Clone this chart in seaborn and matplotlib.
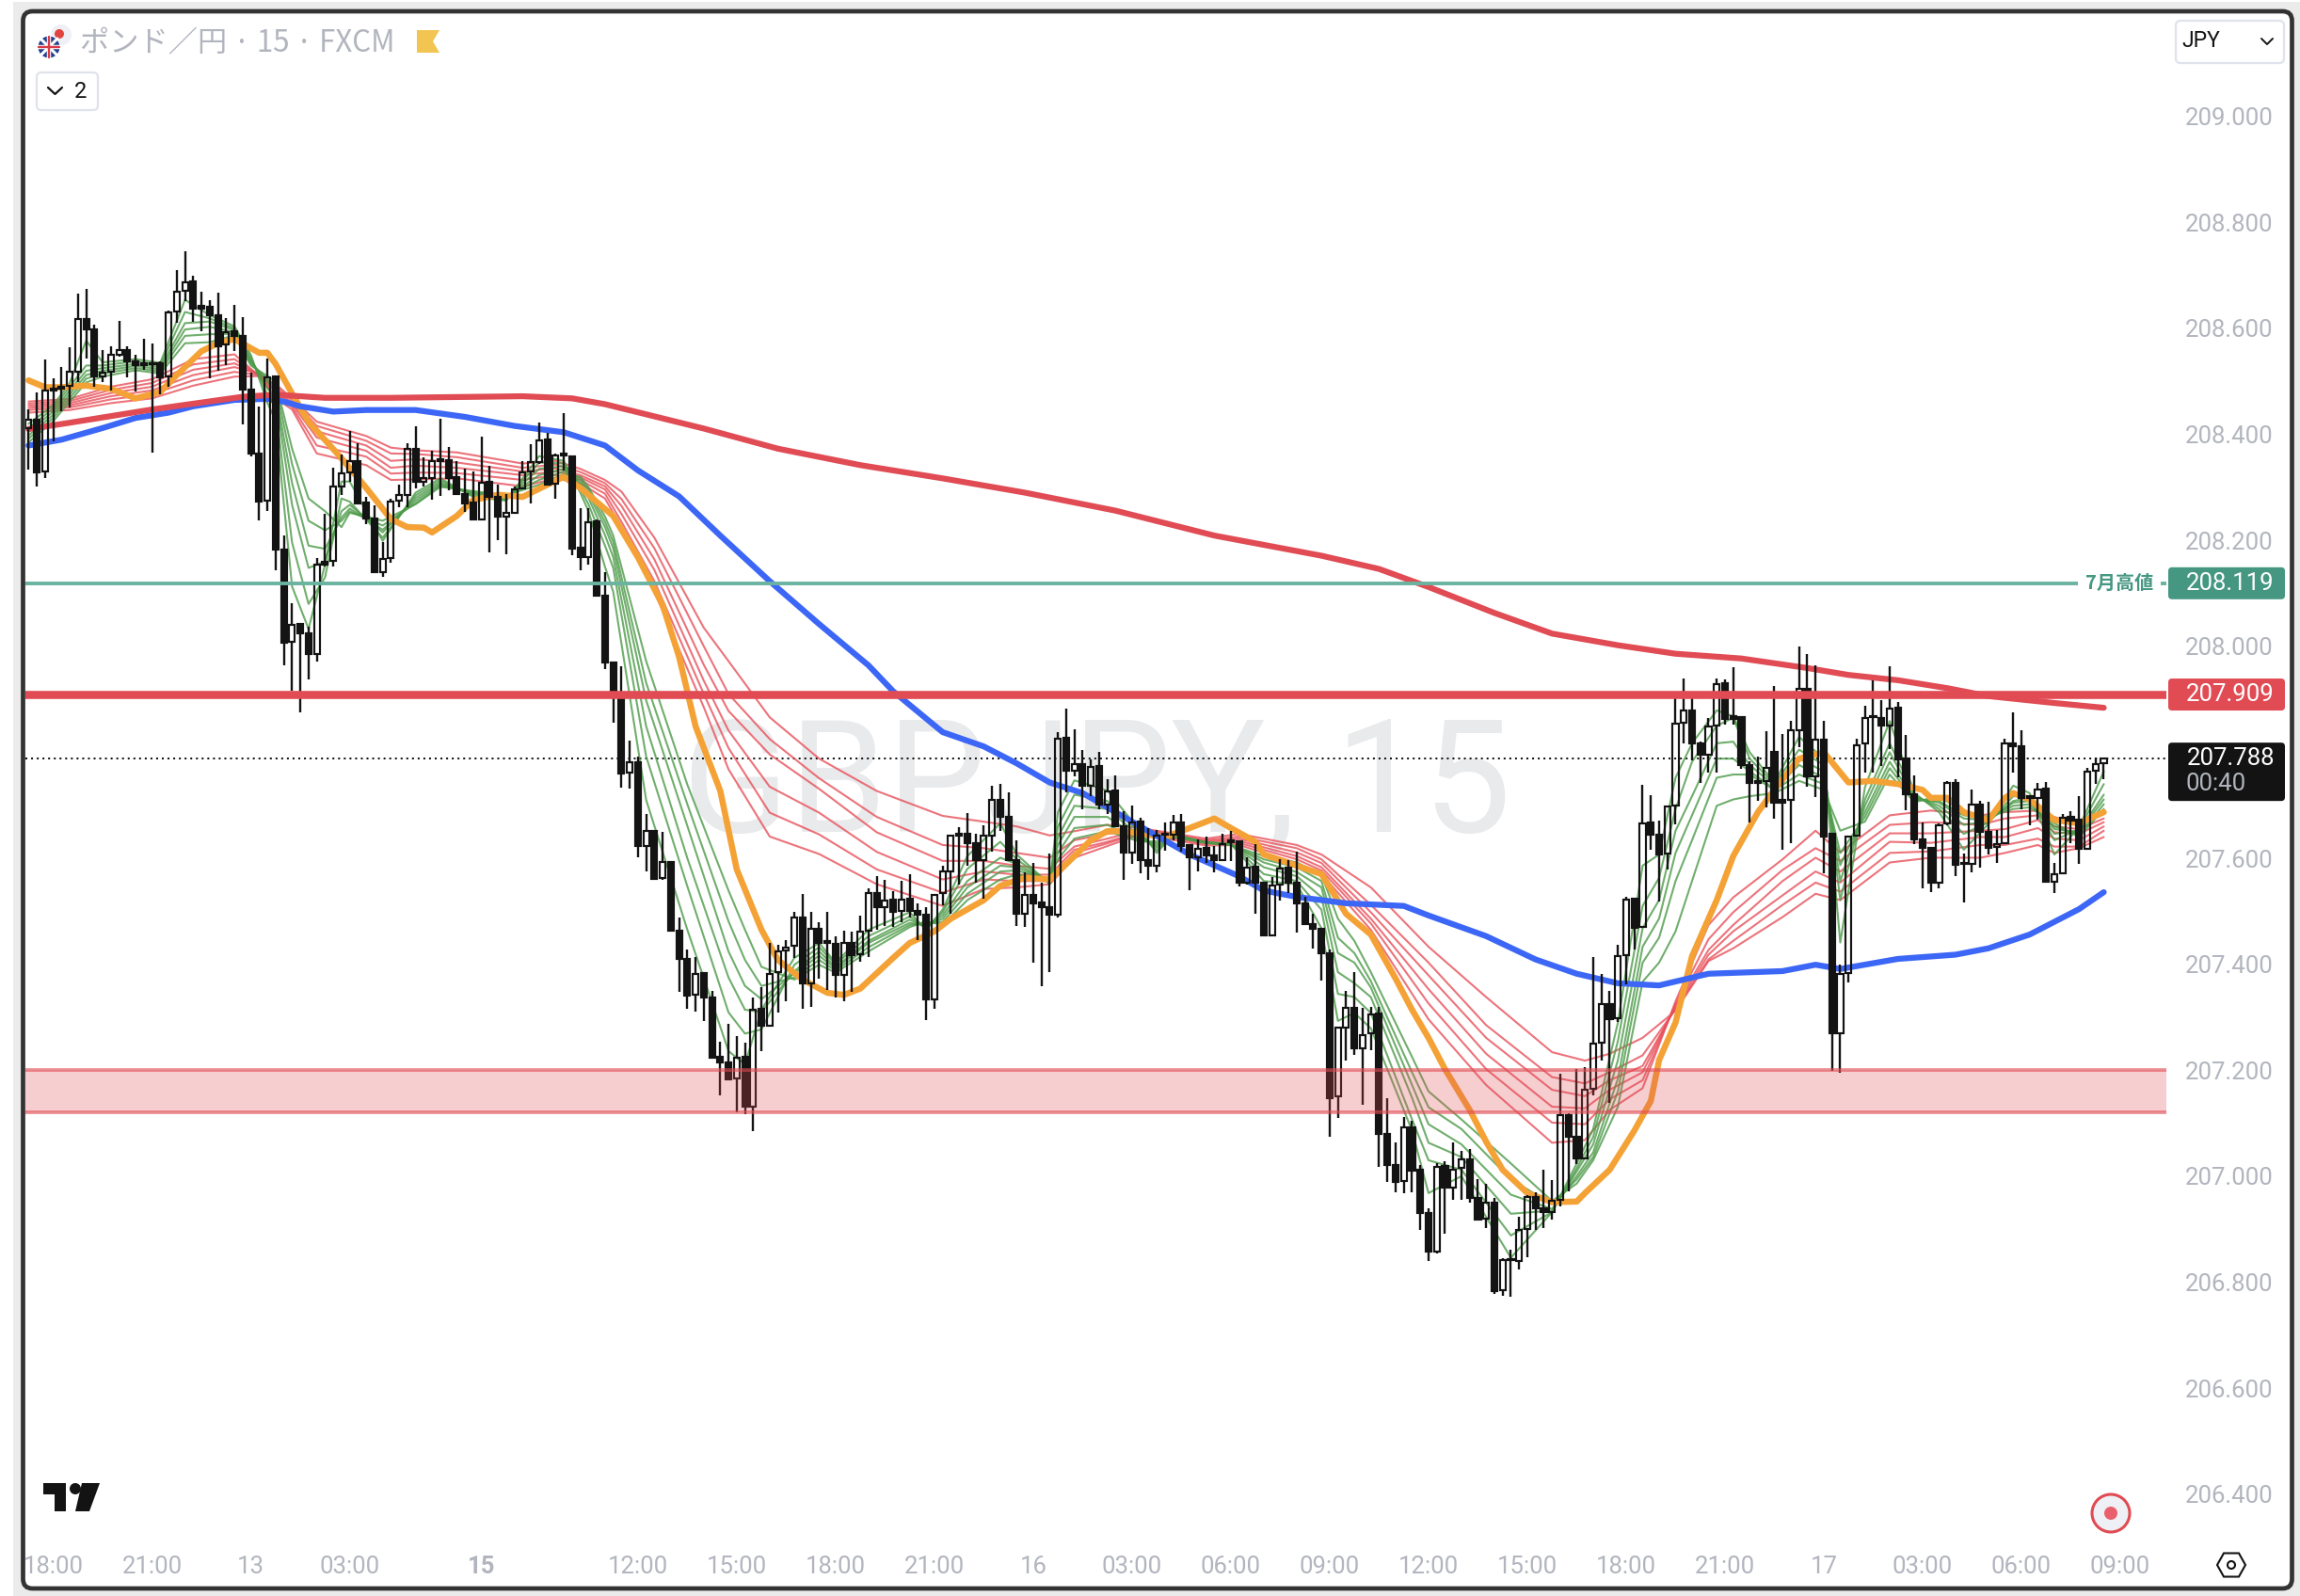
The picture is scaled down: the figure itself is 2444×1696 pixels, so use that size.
import matplotlib
matplotlib.use("Agg")
import matplotlib.pyplot as plt
import numpy as np
import pandas as pd
import seaborn as sns
from matplotlib.patches import Circle, FancyBboxPatch, Polygon, Rectangle

W, H = 2444, 1696

OPENS = [
    208.412, 208.428, 208.330, 208.486, 208.490, 208.492, 208.519, 208.617, 208.599, 208.509,
    208.519, 208.551, 208.560, 208.537, 208.534, 208.535, 208.534, 208.509, 208.632, 208.671,
    208.688, 208.642, 208.641, 208.624, 208.569, 208.595, 208.586, 208.484, 208.363, 208.275,
    208.509, 208.182, 208.009, 208.042, 208.024, 207.985, 208.160, 208.161, 208.302, 208.328,
    208.349, 208.271, 208.242, 208.140, 208.166, 208.275, 208.286, 208.372, 208.311, 208.318,
    208.353, 208.351, 208.319, 208.287, 208.271, 208.240, 208.310, 208.282, 208.245, 208.252,
    208.298, 208.330, 208.347, 208.390, 208.307, 208.364, 208.358, 208.186, 208.169, 208.235,
    208.095, 207.970, 207.903, 207.761, 207.782, 207.624, 207.651, 207.562, 207.593, 207.463,
    207.410, 207.342, 207.383, 207.337, 207.225, 207.215, 207.184, 207.225, 207.132, 207.315,
    207.283, 207.385, 207.426, 207.435, 207.489, 207.364, 207.467, 207.444, 207.438, 207.380,
    207.440, 207.419, 207.463, 207.535, 207.508, 207.521, 207.501, 207.523, 207.501, 207.494,
    207.334, 207.535, 207.576, 207.646, 207.646, 207.628, 207.597, 207.643, 207.710, 207.678,
    207.596, 207.495, 207.531, 207.516, 207.508, 207.493, 207.827, 207.766, 207.778, 207.737,
    207.774, 207.702, 207.728, 207.660, 207.611, 207.669, 207.596, 207.586, 207.646, 207.644,
    207.667, 207.625, 207.602, 207.620, 207.605, 207.597, 207.634, 207.632, 207.554, 207.584,
    207.554, 207.455, 207.551, 207.582, 207.554, 207.515, 207.476, 207.467, 207.421, 207.150,
    207.281, 207.317, 207.242, 207.269, 207.307, 207.080, 207.021, 206.990, 207.092, 207.012,
    206.931, 206.858, 207.019, 206.979, 207.015, 207.032, 206.959, 206.919, 206.950, 206.784,
    206.844, 206.839, 206.901, 206.961, 206.939, 206.933, 206.955, 207.116, 207.074, 207.034,
    207.165, 207.252, 207.324, 207.298, 207.417, 207.523, 207.470, 207.668, 207.645, 207.609,
    207.700, 207.856, 207.879, 207.817, 207.796, 207.851, 207.930, 207.868, 207.866, 207.776,
    207.746, 207.746, 207.801, 207.710, 207.711, 207.842, 207.919, 207.755, 207.824, 207.646,
    207.270, 207.383, 207.642, 207.816, 207.869, 207.865, 207.851, 207.884, 207.788, 207.721,
    207.635, 207.619, 207.554, 207.665, 207.743, 207.592, 207.590, 207.702, 207.650, 207.621,
    207.629, 207.817, 207.811, 207.717, 207.713, 207.731, 207.556, 207.571, 207.678, 207.672,
    207.618, 207.766, 207.780,
]
CLOSES = [
    208.428, 208.329, 208.482, 208.482, 208.486, 208.519, 208.617, 208.599, 208.509, 208.517,
    208.550, 208.560, 208.537, 208.530, 208.531, 208.533, 208.508, 208.631, 208.669, 208.687,
    208.637, 208.637, 208.624, 208.567, 208.593, 208.586, 208.484, 208.363, 208.274, 208.508,
    208.182, 208.007, 208.041, 208.024, 207.985, 208.154, 208.154, 208.301, 208.327, 208.349,
    208.270, 208.242, 208.140, 208.165, 208.274, 208.285, 208.372, 208.310, 208.317, 208.349,
    208.350, 208.318, 208.287, 208.270, 208.239, 208.309, 208.282, 208.244, 208.251, 208.296,
    208.329, 208.347, 208.389, 208.306, 208.361, 208.361, 208.185, 208.168, 208.234, 208.095,
    207.970, 207.917, 207.759, 207.782, 207.624, 207.651, 207.561, 207.593, 207.463, 207.410,
    207.341, 207.382, 207.338, 207.224, 207.215, 207.182, 207.224, 207.131, 207.314, 207.283,
    207.382, 207.424, 207.432, 207.488, 207.364, 207.467, 207.440, 207.440, 207.379, 207.440,
    207.417, 207.461, 207.534, 207.507, 207.520, 207.499, 207.522, 207.501, 207.494, 207.334,
    207.530, 207.575, 207.642, 207.643, 207.628, 207.596, 207.642, 207.710, 207.678, 207.596,
    207.495, 207.530, 207.515, 207.508, 207.493, 207.826, 207.765, 207.777, 207.736, 207.772,
    207.701, 207.727, 207.660, 207.610, 207.668, 207.596, 207.586, 207.643, 207.644, 207.667,
    207.624, 207.602, 207.618, 207.605, 207.597, 207.627, 207.631, 207.554, 207.583, 207.554,
    207.454, 207.549, 207.580, 207.553, 207.514, 207.475, 207.467, 207.421, 207.148, 207.280,
    207.317, 207.241, 207.267, 207.306, 207.080, 207.021, 206.989, 207.092, 207.011, 206.931,
    206.857, 207.018, 206.978, 207.013, 207.031, 206.959, 206.918, 206.950, 206.783, 206.841,
    206.841, 206.899, 206.960, 206.939, 206.932, 206.954, 207.115, 207.074, 207.033, 207.163,
    207.251, 207.324, 207.296, 207.415, 207.521, 207.469, 207.666, 207.645, 207.607, 207.698,
    207.854, 207.878, 207.817, 207.795, 207.849, 207.929, 207.863, 207.863, 207.776, 207.742,
    207.743, 207.771, 207.704, 207.705, 207.841, 207.919, 207.754, 207.823, 207.641, 207.270,
    207.381, 207.641, 207.814, 207.864, 207.866, 207.850, 207.883, 207.786, 207.721, 207.635,
    207.619, 207.553, 207.663, 207.743, 207.588, 207.589, 207.702, 207.650, 207.620, 207.627,
    207.817, 207.811, 207.713, 207.714, 207.730, 207.556, 207.569, 207.676, 207.671, 207.618,
    207.764, 207.778, 207.788,
]
HIGHS = [
    208.448, 208.480, 208.541, 208.505, 208.528, 208.564, 208.665, 208.675, 208.607, 208.559,
    208.567, 208.614, 208.566, 208.551, 208.580, 208.571, 208.538, 208.634, 208.710, 208.745,
    208.699, 208.670, 208.654, 208.667, 208.619, 208.644, 208.622, 208.517, 208.453, 208.543,
    208.511, 208.209, 208.081, 208.042, 208.037, 208.166, 208.250, 208.337, 208.362, 208.406,
    208.384, 208.282, 208.266, 208.196, 208.278, 208.305, 208.384, 208.415, 208.357, 208.369,
    208.429, 208.376, 208.350, 208.335, 208.330, 208.395, 208.340, 208.306, 208.287, 208.302,
    208.349, 208.382, 208.422, 208.402, 208.363, 208.440, 208.360, 208.261, 208.261, 208.240,
    208.140, 207.970, 207.962, 207.822, 207.792, 207.683, 207.653, 207.649, 207.593, 207.489,
    207.427, 207.414, 207.385, 207.350, 207.254, 207.288, 207.265, 207.252, 207.337, 207.357,
    207.440, 207.437, 207.445, 207.498, 207.532, 207.498, 207.479, 207.498, 207.453, 207.463,
    207.461, 207.492, 207.543, 207.567, 207.559, 207.537, 207.557, 207.569, 207.514, 207.507,
    207.532, 207.586, 207.644, 207.659, 207.685, 207.646, 207.663, 207.736, 207.740, 207.724,
    207.634, 207.573, 207.591, 207.554, 207.609, 207.838, 207.882, 207.844, 207.804, 207.786,
    207.800, 207.749, 207.756, 207.689, 207.700, 207.676, 207.657, 207.653, 207.667, 207.682,
    207.684, 207.627, 207.636, 207.641, 207.623, 207.647, 207.652, 207.632, 207.602, 207.627,
    207.554, 207.564, 207.598, 207.597, 207.612, 207.527, 207.496, 207.467, 207.428, 207.282,
    207.350, 207.385, 207.317, 207.319, 207.319, 207.147, 207.064, 207.112, 207.105, 207.021,
    206.939, 207.024, 207.028, 207.064, 207.048, 207.051, 206.995, 206.986, 206.958, 206.845,
    206.861, 206.923, 206.965, 206.970, 207.012, 206.993, 207.193, 207.119, 207.202, 207.206,
    207.414, 207.382, 207.350, 207.437, 207.527, 207.523, 207.739, 207.719, 207.671, 207.698,
    207.904, 207.940, 207.903, 207.820, 207.864, 207.940, 207.937, 207.961, 207.866, 207.783,
    207.792, 207.840, 207.925, 207.835, 207.859, 208.000, 207.986, 207.964, 207.859, 207.646,
    207.399, 207.641, 207.825, 207.887, 207.936, 207.899, 207.962, 207.894, 207.833, 207.757,
    207.668, 207.619, 207.666, 207.745, 207.749, 207.609, 207.730, 207.709, 207.707, 207.653,
    207.826, 207.875, 207.842, 207.717, 207.742, 207.744, 207.591, 207.683, 207.689, 207.718,
    207.770, 207.790, 207.790,
]
LOWS = [
    208.333, 208.302, 208.318, 208.386, 208.444, 208.451, 208.498, 208.544, 208.490, 208.499,
    208.483, 208.546, 208.508, 208.481, 208.522, 208.366, 208.476, 208.489, 208.610, 208.651,
    208.613, 208.595, 208.505, 208.520, 208.530, 208.557, 208.419, 208.359, 208.237, 208.256,
    208.144, 207.964, 207.917, 207.876, 207.938, 207.972, 208.151, 208.151, 208.286, 208.311,
    208.270, 208.230, 208.140, 208.131, 208.157, 208.263, 208.262, 208.298, 208.302, 208.276,
    208.283, 208.295, 208.287, 208.253, 208.239, 208.240, 208.178, 208.201, 208.173, 208.252,
    208.298, 208.270, 208.344, 208.303, 208.279, 208.332, 208.172, 208.144, 208.154, 208.093,
    207.957, 207.855, 207.733, 207.732, 207.602, 207.575, 207.559, 207.559, 207.461, 207.348,
    207.315, 207.311, 207.293, 207.222, 207.152, 207.182, 207.121, 207.117, 207.085, 207.236,
    207.283, 207.308, 207.330, 207.412, 207.315, 207.319, 207.372, 207.352, 207.338, 207.330,
    207.347, 207.405, 207.414, 207.465, 207.473, 207.471, 207.479, 207.489, 207.445, 207.295,
    207.315, 207.511, 207.496, 207.551, 207.586, 207.554, 207.523, 207.613, 207.652, 207.596,
    207.472, 207.470, 207.403, 207.358, 207.386, 207.488, 207.724, 207.754, 207.692, 207.717,
    207.692, 207.684, 207.660, 207.559, 207.589, 207.571, 207.559, 207.573, 207.614, 207.634,
    207.612, 207.539, 207.576, 207.592, 207.573, 207.594, 207.595, 207.546, 207.551, 207.495,
    207.454, 207.455, 207.520, 207.535, 207.459, 207.475, 207.429, 207.370, 207.074, 207.110,
    207.218, 207.228, 207.135, 207.238, 207.017, 206.989, 206.969, 206.967, 206.969, 206.899,
    206.839, 206.854, 206.891, 206.955, 206.955, 206.950, 206.918, 206.902, 206.777, 206.774,
    206.772, 206.823, 206.847, 206.898, 206.902, 206.918, 206.942, 206.971, 207.022, 207.033,
    207.153, 207.218, 207.138, 207.291, 207.362, 207.427, 207.470, 207.616, 207.518, 207.578,
    207.664, 207.817, 207.784, 207.742, 207.762, 207.761, 207.852, 207.852, 207.768, 207.668,
    207.708, 207.696, 207.675, 207.616, 207.628, 207.810, 207.735, 207.716, 207.572, 207.199,
    207.195, 207.365, 207.642, 207.761, 207.761, 207.774, 207.806, 207.752, 207.690, 207.626,
    207.543, 207.536, 207.544, 207.663, 207.567, 207.517, 207.573, 207.582, 207.608, 207.592,
    207.628, 207.761, 207.692, 207.663, 207.672, 207.555, 207.534, 207.570, 207.628, 207.589,
    207.618, 207.740, 207.749,
]

SLOW_RED_BARS = [0, 5, 15, 26, 30, 36, 44, 60, 66, 70, 82, 91, 101, 111, 121, 132, 144, 157, 164,
                 170, 178, 185, 193, 200, 208, 216, 221, 227, 233, 238, 246, 252]
SLOW_RED = [208.410, 208.422, 208.447, 208.471, 208.475, 208.469, 208.469, 208.472, 208.468,
            208.457, 208.411, 208.373, 208.342, 208.317, 208.290, 208.256, 208.209, 208.171,
            208.146, 208.112, 208.063, 208.024, 208.002, 207.986, 207.977, 207.959, 207.946,
            207.936, 207.921, 207.906, 207.893, 207.884]

BLUE_BARS = [0, 4, 9, 13, 17, 20, 25, 29, 31, 33, 37, 41, 47, 53, 59, 65, 70, 74, 79, 84, 90, 96,
             102, 105, 111, 116, 120, 124, 128, 131, 135, 141, 147, 150, 154, 160, 167, 170, 177,
             183, 188, 193, 198, 204, 213, 217, 220, 227, 234, 238, 243, 249, 252]
BLUE = [208.379, 208.390, 208.412, 208.431, 208.441, 208.453, 208.465, 208.467, 208.462, 208.453,
        208.443, 208.446, 208.446, 208.433, 208.416, 208.404, 208.379, 208.332, 208.283, 208.209,
        208.123, 208.042, 207.964, 207.915, 207.838, 207.811, 207.779, 207.743, 207.723, 207.696,
        207.660, 207.607, 207.566, 207.539, 207.527, 207.515, 207.510, 207.492, 207.453, 207.409,
        207.382, 207.364, 207.360, 207.382, 207.387, 207.399, 207.391, 207.410, 207.418, 207.430,
        207.456, 207.504, 207.536]

ORANGE_BARS = [0, 2, 4, 7, 10, 13, 16, 18, 21, 23, 25, 28, 29, 30, 32, 34, 38, 41, 44, 46, 48, 49,
               52, 54, 57, 60, 63, 65, 67, 71, 74, 77, 79, 81, 84, 86, 89, 91, 94, 97, 99, 101,
               105, 107, 110, 112, 116, 118, 121, 124, 126, 128, 129, 131, 133, 138, 141, 144,
               146, 149, 150, 154, 157, 160, 163, 166, 168, 170, 172, 175, 177, 179, 182, 185,
               188, 189, 192, 195, 197, 198, 200, 202, 205, 207, 210, 212, 215, 218, 221, 224,
               227, 230, 231, 233, 235, 238, 240, 241, 243, 246, 249, 252]
ORANGE = [208.502, 208.489, 208.489, 208.492, 208.486, 208.468, 208.480, 208.512, 208.557, 208.572,
          208.580, 208.554, 208.554, 208.533, 208.477, 208.424, 208.355, 208.299, 208.240, 208.225,
          208.224, 208.215, 208.246, 208.276, 208.286, 208.282, 208.305, 208.320, 208.299, 208.246,
          208.168, 208.078, 207.980, 207.849, 207.727, 207.579, 207.465, 207.408, 207.371, 207.346,
          207.342, 207.354, 207.412, 207.440, 207.462, 207.486, 207.521, 207.548, 207.563, 207.560,
          207.589, 207.619, 207.634, 207.651, 207.651, 207.640, 207.657, 207.675, 207.657, 207.631,
          207.607, 207.586, 207.570, 207.495, 207.456, 207.373, 207.314, 207.261, 207.202, 207.125,
          207.065, 207.012, 206.968, 206.951, 206.952, 206.968, 207.012, 207.086, 207.142, 207.219,
          207.290, 207.415, 207.521, 207.604, 207.687, 207.729, 207.788, 207.800, 207.743, 207.746,
          207.740, 207.729, 207.714, 207.714, 207.687, 207.672, 207.714, 207.723, 207.711, 207.672,
          207.666, 207.687]

# one row per bar listed, fastest average first
RED_BARS = [0, 5, 10, 15, 20, 25, 28, 30, 32, 35, 41, 44, 47, 52, 60, 64, 67, 70, 72, 76, 82, 85,
            90, 96, 103, 111, 116, 120, 124, 127, 131, 135, 143, 147, 154, 157, 163, 170, 177, 185,
            189, 192, 196, 200, 204, 207, 213, 217, 220, 226, 231, 237, 240, 244, 246, 249, 252]
RED_RIBBON = [
    [208.462, 208.458, 208.454, 208.450, 208.446, 208.441],
    [208.467, 208.463, 208.459, 208.455, 208.451, 208.446],
    [208.490, 208.484, 208.478, 208.472, 208.466, 208.459],
    [208.504, 208.497, 208.490, 208.483, 208.476, 208.468],
    [208.542, 208.532, 208.522, 208.512, 208.502, 208.492],
    [208.551, 208.542, 208.534, 208.527, 208.518, 208.509],
    [208.510, 208.512, 208.513, 208.514, 208.512, 208.510],
    [208.468, 208.474, 208.480, 208.485, 208.490, 208.495],
    [208.447, 208.452, 208.457, 208.460, 208.465, 208.468],
    [208.364, 208.379, 208.394, 208.406, 208.416, 208.424],
    [208.342, 208.358, 208.369, 208.379, 208.388, 208.397],
    [208.314, 208.326, 208.337, 208.350, 208.364, 208.375],
    [208.315, 208.328, 208.341, 208.353, 208.363, 208.370],
    [208.317, 208.327, 208.337, 208.347, 208.357, 208.366],
    [208.302, 208.314, 208.323, 208.330, 208.337, 208.345],
    [208.317, 208.323, 208.330, 208.336, 208.343, 208.350],
    [208.308, 208.314, 208.319, 208.323, 208.329, 208.335],
    [208.279, 208.288, 208.296, 208.302, 208.308, 208.314],
    [208.225, 208.235, 208.250, 208.265, 208.278, 208.292],
    [208.103, 208.123, 208.144, 208.164, 208.185, 208.205],
    [207.885, 207.910, 207.935, 207.965, 208.000, 208.035],
    [207.768, 207.808, 207.841, 207.878, 207.910, 207.972],
    [207.641, 207.686, 207.735, 207.796, 207.825, 207.866],
    [207.608, 207.645, 207.686, 207.731, 207.751, 207.788],
    [207.551, 207.579, 207.612, 207.649, 207.678, 207.727],
    [207.510, 207.535, 207.560, 207.595, 207.625, 207.680],
    [207.542, 207.560, 207.575, 207.595, 207.619, 207.669],
    [207.545, 207.557, 207.569, 207.586, 207.610, 207.660],
    [207.551, 207.557, 207.569, 207.580, 207.601, 207.643],
    [207.601, 207.610, 207.616, 207.622, 207.634, 207.651],
    [207.623, 207.628, 207.631, 207.637, 207.646, 207.663],
    [207.645, 207.648, 207.650, 207.653, 207.655, 207.657],
    [207.624, 207.627, 207.630, 207.632, 207.634, 207.637],
    [207.625, 207.629, 207.633, 207.637, 207.641, 207.646],
    [207.591, 207.598, 207.604, 207.611, 207.619, 207.625],
    [207.570, 207.577, 207.583, 207.591, 207.598, 207.607],
    [207.465, 207.477, 207.486, 207.498, 207.512, 207.545],
    [207.296, 207.326, 207.353, 207.379, 207.403, 207.433],
    [207.172, 207.202, 207.231, 207.261, 207.285, 207.338],
    [207.063, 207.101, 207.131, 207.163, 207.187, 207.234],
    [207.068, 207.098, 207.128, 207.151, 207.175, 207.218],
    [207.125, 207.145, 207.163, 207.181, 207.196, 207.231],
    [207.166, 207.181, 207.196, 207.208, 207.228, 207.261],
    [207.330, 207.325, 207.322, 207.318, 207.315, 207.312],
    [207.474, 207.447, 207.427, 207.418, 207.409, 207.406],
    [207.526, 207.498, 207.474, 207.462, 207.444, 207.430],
    [207.598, 207.578, 207.557, 207.530, 207.512, 207.489],
    [207.652, 207.619, 207.601, 207.575, 207.554, 207.533],
    [207.611, 207.595, 207.575, 207.554, 207.537, 207.521],
    [207.681, 207.663, 207.647, 207.631, 207.610, 207.592],
    [207.690, 207.668, 207.647, 207.629, 207.613, 207.601],
    [207.681, 207.663, 207.652, 207.640, 207.625, 207.601],
    [207.687, 207.675, 207.655, 207.640, 207.625, 207.610],
    [207.690, 207.681, 207.672, 207.657, 207.637, 207.625],
    [207.678, 207.660, 207.649, 207.637, 207.622, 207.610],
    [207.663, 207.655, 207.646, 207.634, 207.622, 207.619],
    [207.684, 207.675, 207.668, 207.660, 207.652, 207.640],
]

GREEN_BARS = [0, 3, 5, 7, 9, 13, 16, 19, 22, 25, 27, 29, 30, 32, 34, 36, 38, 39, 43, 47, 50, 54, 58,
              62, 65, 67, 68, 70, 71, 75, 80, 85, 87, 89, 93, 96, 98, 102, 107, 109, 111, 114, 118,
              120, 124, 125, 127, 131, 135, 137, 139, 143, 146, 150, 154, 157, 159, 161, 163, 168,
              170, 174, 180, 185, 188, 190, 193, 196, 198, 200, 202, 205, 207, 209, 212, 215, 218,
              220, 223, 226, 229, 232, 235, 238, 241, 243, 246, 249, 252]
GREEN_RIBBON = [
    [208.420, 208.412, 208.405, 208.398, 208.392, 208.385],
    [208.455, 208.449, 208.443, 208.437, 208.431, 208.425],
    [208.497, 208.490, 208.483, 208.476, 208.469, 208.462],
    [208.577, 208.530, 208.520, 208.512, 208.505, 208.498],
    [208.536, 208.530, 208.525, 208.520, 208.515, 208.509],
    [208.542, 208.538, 208.533, 208.529, 208.525, 208.521],
    [208.535, 208.531, 208.527, 208.523, 208.519, 208.515],
    [208.654, 208.631, 208.610, 208.598, 208.586, 208.572],
    [208.625, 208.619, 208.613, 208.603, 208.589, 208.574],
    [208.604, 208.600, 208.597, 208.593, 208.590, 208.587],
    [208.550, 208.545, 208.540, 208.537, 208.533, 208.530],
    [208.460, 208.475, 208.487, 208.500, 208.505, 208.510],
    [208.426, 208.450, 208.470, 208.480, 208.492, 208.500],
    [208.113, 208.196, 208.267, 208.308, 208.344, 208.373],
    [208.033, 208.080, 208.148, 208.190, 208.237, 208.279],
    [208.154, 208.130, 208.160, 208.184, 208.219, 208.255],
    [208.311, 208.279, 208.255, 208.243, 208.237, 208.225],
    [208.311, 208.273, 208.267, 208.260, 208.255, 208.252],
    [208.199, 208.205, 208.215, 208.220, 208.228, 208.237],
    [208.290, 208.285, 208.280, 208.275, 208.270, 208.268],
    [208.317, 208.313, 208.309, 208.306, 208.303, 208.301],
    [208.282, 208.284, 208.287, 208.289, 208.291, 208.293],
    [208.275, 208.277, 208.279, 208.281, 208.283, 208.285],
    [208.359, 208.347, 208.335, 208.323, 208.314, 208.305],
    [208.350, 208.345, 208.340, 208.335, 208.330, 208.325],
    [208.290, 208.297, 208.303, 208.309, 208.315, 208.320],
    [208.255, 208.268, 208.280, 208.288, 208.295, 208.300],
    [208.150, 208.190, 208.210, 208.225, 208.235, 208.245],
    [208.103, 208.148, 208.168, 208.185, 208.197, 208.209],
    [207.710, 207.792, 207.849, 207.898, 207.931, 207.972],
    [207.465, 207.547, 207.600, 207.661, 207.702, 207.739],
    [207.236, 207.309, 207.375, 207.424, 207.481, 207.539],
    [207.211, 207.269, 207.314, 207.359, 207.408, 207.465],
    [207.314, 207.277, 207.310, 207.334, 207.359, 207.395],
    [207.412, 207.399, 207.387, 207.383, 207.375, 207.371],
    [207.440, 207.432, 207.424, 207.416, 207.408, 207.399],
    [207.403, 207.400, 207.395, 207.392, 207.388, 207.384],
    [207.465, 207.453, 207.444, 207.440, 207.432, 207.424],
    [207.498, 207.490, 207.484, 207.478, 207.474, 207.470],
    [207.465, 207.468, 207.470, 207.473, 207.477, 207.481],
    [207.503, 207.498, 207.492, 207.486, 207.480, 207.474],
    [207.604, 207.580, 207.557, 207.545, 207.533, 207.521],
    [207.666, 207.631, 207.601, 207.586, 207.575, 207.560],
    [207.607, 207.598, 207.589, 207.583, 207.577, 207.569],
    [207.551, 207.553, 207.556, 207.558, 207.560, 207.562],
    [207.687, 207.660, 207.640, 207.625, 207.610, 207.598],
    [207.747, 207.720, 207.699, 207.678, 207.657, 207.637],
    [207.728, 207.708, 207.693, 207.678, 207.663, 207.651],
    [207.651, 207.646, 207.641, 207.637, 207.634, 207.631],
    [207.610, 207.615, 207.620, 207.624, 207.628, 207.632],
    [207.645, 207.644, 207.643, 207.642, 207.641, 207.640],
    [207.630, 207.630, 207.630, 207.629, 207.629, 207.629],
    [207.627, 207.627, 207.626, 207.626, 207.625, 207.625],
    [207.557, 207.570, 207.583, 207.592, 207.598, 207.604],
    [207.551, 207.557, 207.566, 207.574, 207.583, 207.592],
    [207.468, 207.503, 207.527, 207.545, 207.557, 207.569],
    [207.293, 207.344, 207.385, 207.421, 207.450, 207.486],
    [207.308, 207.338, 207.364, 207.403, 207.421, 207.444],
    [207.279, 207.308, 207.338, 207.356, 207.368, 207.385],
    [207.086, 207.107, 207.148, 207.172, 207.196, 207.225],
    [206.968, 207.030, 207.063, 207.098, 207.130, 207.160],
    [207.000, 207.012, 207.036, 207.060, 207.089, 207.107],
    [206.846, 206.888, 206.929, 206.965, 206.994, 207.024],
    [206.932, 206.932, 206.935, 206.938, 206.947, 206.953],
    [207.024, 207.015, 207.009, 207.000, 206.994, 206.986],
    [207.089, 207.074, 207.060, 207.045, 207.036, 207.030],
    [207.290, 207.255, 207.219, 207.184, 207.160, 207.131],
    [207.586, 207.510, 207.468, 207.433, 207.403, 207.367],
    [207.607, 207.563, 207.521, 207.486, 207.450, 207.403],
    [207.752, 207.693, 207.652, 207.610, 207.557, 207.462],
    [207.817, 207.782, 207.717, 207.681, 207.634, 207.557],
    [207.879, 207.850, 207.817, 207.788, 207.752, 207.699],
    [207.868, 207.865, 207.820, 207.788, 207.758, 207.711],
    [207.800, 207.788, 207.776, 207.764, 207.758, 207.717],
    [207.743, 207.740, 207.737, 207.731, 207.729, 207.723],
    [207.829, 207.805, 207.788, 207.776, 207.758, 207.746],
    [207.788, 207.776, 207.764, 207.752, 207.740, 207.729],
    [207.441, 207.521, 207.557, 207.587, 207.610, 207.652],
    [207.734, 207.711, 207.699, 207.687, 207.678, 207.669],
    [207.859, 207.817, 207.800, 207.782, 207.770, 207.758],
    [207.723, 207.720, 207.716, 207.713, 207.710, 207.706],
    [207.687, 207.693, 207.699, 207.705, 207.708, 207.717],
    [207.616, 207.646, 207.663, 207.675, 207.681, 207.687],
    [207.665, 207.668, 207.670, 207.672, 207.675, 207.678],
    [207.737, 207.717, 207.708, 207.705, 207.699, 207.693],
    [207.723, 207.717, 207.714, 207.708, 207.702, 207.696],
    [207.607, 207.634, 207.646, 207.655, 207.660, 207.666],
    [207.658, 207.655, 207.652, 207.649, 207.644, 207.640],
    [207.764, 207.740, 207.720, 207.711, 207.702, 207.693],
]

PRICE_TICKS = [206.4, 206.6, 206.8, 207.0, 207.2, 207.4, 207.6, 207.8, 208.0, 208.2, 208.4,
               208.6, 208.8, 209.0]
TIME_TICKS = [3, 15, 27, 39, 55, 74, 86, 98, 110, 122, 134, 146, 158, 170, 182, 194, 206, 218, 230,
              242, 254]
TIME_LABELS = ["18:00", "21:00", "13", "03:00", "15", "12:00", "15:00", "18:00", "21:00", "16",
               "03:00", "06:00", "09:00", "12:00", "15:00", "18:00", "21:00", "17", "03:00",
               "06:00", "09:00"]

JULY_HIGH = 208.119
RESISTANCE = 207.909
LAST_PRICE = 207.788
ZONE_TOP = 207.200
ZONE_BOTTOM = 207.121

INK = "#131313"
MUTED = "#b2b5be"
RED = "#e04b54"
TEAL = "#459782"
JP_FONT = ["Noto Sans CJK JP", "DejaVu Sans"]

sns.set_theme(style="white")
plt.rcParams["font.family"] = ["Roboto", "DejaVu Sans"]

fig = plt.figure(figsize=(W / 100, H / 100), dpi=100, facecolor="white")


def px_axes(left, top, right, bottom, **kwargs):
    return fig.add_axes(
        [left / W, 1 - bottom / H, (right - left) / W, (bottom - top) / H], **kwargs
    )


def overlay(zorder):
    layer = px_axes(0, 0, W, H, zorder=zorder)
    layer.set_xlim(0, W)
    layer.set_ylim(H, 0)
    layer.axis("off")
    layer.patch.set_alpha(0)
    return layer


back = overlay(0)
ax = px_axes(27, 14, 2302, 1640, zorder=1)
ui = overlay(2)
ax.patch.set_alpha(0)

# page behind the chart card
back.add_patch(Rectangle((14, 2), W - 14, H - 2, fc="#ebebeb", ec="none"))
back.add_patch(
    FancyBboxPatch(
        (24.5, 12), 2411, 1676, boxstyle="round,pad=0,rounding_size=10",
        fc="white", ec="#333333", lw=3.4,
    )
)
back.text(1165, 838, "GBPJPY, 15", fontsize=120, color="#e9eaec", ha="center", va="center")


def draw_lines(bars, rows, colors, width, zorder, alpha=1.0):
    frame = pd.DataFrame(rows, index=bars)
    frame.columns = [f"line{n}" for n in frame.columns]
    frame = frame.rename_axis("bar").reset_index()
    frame = frame.melt(id_vars="bar", var_name="line", value_name="price")
    sns.lineplot(
        data=frame, x="bar", y="price", hue="line", palette=colors, estimator=None,
        linewidth=width, alpha=alpha, zorder=zorder, legend=False, ax=ax,
        solid_capstyle="round",
    )


draw_lines(RED_BARS, RED_RIBBON, ["#e8505a"] * 6, 1.5, 2, 0.8)
draw_lines(GREEN_BARS, GREEN_RIBBON, ["#4c9a48"] * 6, 1.5, 2.1, 0.8)
draw_lines(ORANGE_BARS, ORANGE, ["#f4a236"], 4.7, 2.2)
draw_lines(BLUE_BARS, BLUE, ["#3c66f6"], 4.5, 2.3)
draw_lines(SLOW_RED_BARS, SLOW_RED, [RED], 4.5, 2.4)

candles = pd.DataFrame({"open": OPENS, "high": HIGHS, "low": LOWS, "close": CLOSES})
candles["bar"] = np.arange(len(candles))
candles["top"] = candles[["open", "close"]].max(axis=1)
candles["bottom"] = candles[["open", "close"]].min(axis=1)
rising = candles["close"] > candles["open"]

ax.vlines(candles["bar"], candles["top"], candles["high"], color=INK, lw=1.7, zorder=3)
ax.vlines(candles["bar"], candles["low"], candles["bottom"], color=INK, lw=1.7, zorder=3)
for mask, fill in [(rising, "none"), (~rising, INK)]:
    part = candles[mask]
    ax.bar(
        part["bar"], part["top"] - part["bottom"], bottom=part["bottom"], width=0.7,
        facecolor=fill, edgecolor=INK, linewidth=1.55, zorder=3.1,
    )

ax.axhline(LAST_PRICE, color=INK, lw=1.45, ls=(0, (1, 2)), zorder=1.5)
ax.axhline(JULY_HIGH, color="#6bb3a1", lw=2.8, zorder=4)
ax.axhline(RESISTANCE, color=RED, lw=6.2, zorder=4.2)
ax.axhspan(ZONE_BOTTOM, ZONE_TOP, facecolor=RED, alpha=0.27, lw=0, zorder=4)
ax.axhline(ZONE_TOP, color=RED, alpha=0.62, lw=2.7, zorder=4.1)
ax.axhline(ZONE_BOTTOM, color=RED, alpha=0.62, lw=2.7, zorder=4.1)

ax.set_xlim(-0.38, 259.6)
ax.set_ylim(206.307, 209.195)
ax.set_xlabel("")
ax.set_ylabel("")
sns.despine(ax=ax, left=True, bottom=True)

ax.yaxis.tick_right()
ax.set_yticks(PRICE_TICKS)
ax.set_yticklabels([f"{p:.3f}" for p in PRICE_TICKS])
ax.set_xticks(TIME_TICKS)
ax.set_xticklabels(TIME_LABELS)
ax.tick_params(axis="y", length=0, pad=14.5, labelsize=18.5, labelcolor=MUTED)
ax.tick_params(axis="x", length=0, pad=9.5, labelsize=18.5, labelcolor=MUTED)
for label in ax.get_xticklabels():
    if label.get_text() == "15":
        label.set_fontweight("bold")


def price_y(price):
    return H - ax.transData.transform((0, price))[1]


def price_tag(price, color, text):
    y = price_y(price)
    ui.add_patch(
        FancyBboxPatch(
            (2304, y - 17), 124, 34, boxstyle="round,pad=0,rounding_size=4", fc=color, ec="none"
        )
    )
    ui.text(2417, y, text, color="white", fontsize=18.5, ha="right", va="center")


price_tag(JULY_HIGH, TEAL, f"{JULY_HIGH:.3f}")
price_tag(RESISTANCE, RED, f"{RESISTANCE:.3f}")

july_y = price_y(JULY_HIGH)
ui.add_patch(Rectangle((2208, july_y - 8), 88, 16, fc="white", ec="none"))
ui.text(2252, july_y, "7月高値", color=TEAL, fontsize=14.5, fontweight="bold",
        family=JP_FONT, ha="center", va="center")

last_y = price_y(LAST_PRICE)
ui.add_patch(
    FancyBboxPatch(
        (2304, last_y - 17), 124, 62, boxstyle="round,pad=0,rounding_size=4", fc=INK, ec="none"
    )
)
ui.text(2417, last_y, f"{LAST_PRICE:.3f}", color="white", fontsize=18.5, ha="right", va="center")
ui.text(2322, last_y + 27, "00:40", color=MUTED, fontsize=18.5, ha="left", va="center")

# symbol line
ui.add_patch(Circle((65, 37), 11, fc="#eef0f6", ec="none"))
ui.add_patch(Circle((63, 36), 5, fc="#e0443e", ec="none"))
ui.add_patch(Circle((52, 50), 12, fc="#24418f", ec="white", lw=0.8))
ui.plot([43, 61], [41, 59], color="white", lw=2.2)
ui.plot([43, 61], [59, 41], color="white", lw=2.2)
ui.plot([52, 52], [39, 61], color="white", lw=3.2)
ui.plot([41, 63], [50, 50], color="white", lw=3.2)
ui.plot([52, 52], [39, 61], color="#d93a45", lw=1.7)
ui.plot([41, 63], [50, 50], color="#d93a45", lw=1.7)
ui.text(85, 46, "ポンド／円 · 15 · FXCM", color=MUTED, fontsize=22.5, family=JP_FONT,
        ha="left", va="center")
ui.add_patch(Polygon([(443, 32), (467, 32), (460, 44), (467, 56), (443, 56)], fc="#f2c452", ec="none"))

# collapsed indicators box
ui.add_patch(
    FancyBboxPatch((39, 77), 65, 40, boxstyle="round,pad=0,rounding_size=5",
                   fc="white", ec="#e0e3eb", lw=1.6)
)
ui.plot([51, 58.5, 66], [93, 100, 93], color=INK, lw=1.6)
ui.text(86, 97, "2", color=INK, fontsize=17, ha="center", va="center")

# currency button
ui.add_patch(
    FancyBboxPatch((2312, 22), 115, 45, boxstyle="round,pad=0,rounding_size=5",
                   fc="white", ec="#e0e3eb", lw=1.6)
)
ui.text(2318, 44, "JPY", color=INK, fontsize=16.5, ha="left", va="center")
ui.plot([2403, 2409, 2415], [41, 47, 41], color=INK, lw=1.4)

# TradingView mark
ui.add_patch(Polygon([(46, 1576), (70, 1576), (70, 1606), (58, 1606), (58, 1588), (46, 1588)], fc=INK, ec="none"))
ui.add_patch(Circle((80, 1582), 6, fc=INK, ec="none"))
ui.add_patch(Polygon([(87, 1576), (106, 1576), (95, 1606), (80, 1606)], fc=INK, ec="none"))

# record button and settings hexagon
ui.add_patch(Circle((2243, 1608), 20, fc="#eff0f5", ec=RED, lw=2.2))
ui.add_patch(Circle((2243, 1608), 7, fc="#ea5f6c", ec="none"))
ui.add_patch(
    Polygon([(2356, 1663), (2363, 1650.5), (2379, 1650.5), (2386, 1663), (2379, 1675.5), (2363, 1675.5)],
            fc="none", ec=INK, lw=1.5)
)
ui.add_patch(Circle((2371, 1663), 4, fc="none", ec=INK, lw=1.5))

fig.savefig("out.png", dpi=100)
